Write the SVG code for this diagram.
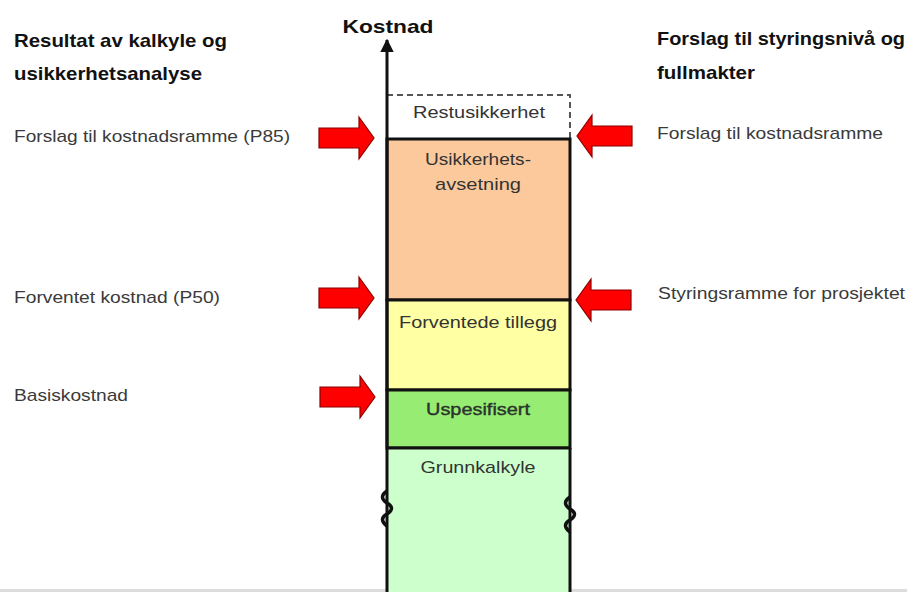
<svg xmlns="http://www.w3.org/2000/svg" width="907" height="592" viewBox="0 0 907 592">
<style>
.h{font-family:"Liberation Sans",Arial,sans-serif;font-weight:bold;font-size:19px;fill:#111;}
.t{font-family:"Liberation Sans",Arial,sans-serif;font-size:17px;fill:#3a3a3a;}
.c{font-family:"Liberation Sans",Arial,sans-serif;font-size:17px;fill:#333;text-anchor:middle;}
.box{stroke:#111;stroke-width:3;}
.arr{fill:#ff0000;stroke:#8a0000;stroke-width:1.2;stroke-linejoin:miter;}
.sq{fill:none;stroke:#111;stroke-width:3.5;}
</style>
<defs>
<path id="ptr" class="arr" d="M-55,-10 L-15,-10 L-15,-21 L0,0 L-15,21 L-15,10 L-55,10 Z"/>
<marker id="ah" viewBox="0 0 10 10" refX="9" refY="5" markerWidth="4.5" markerHeight="4.5" orient="auto" markerUnits="strokeWidth">
<path d="M0,0 L10,5 L0,10 Z" fill="#111"/>
</marker>
</defs>
<rect x="0" y="0" width="907" height="592" fill="#ffffff"/>
<rect x="0" y="589" width="907" height="3" fill="#dcdcdc"/>

<g id="heading-left">
<text class="h" x="14" y="47" textLength="213" lengthAdjust="spacingAndGlyphs">Resultat av kalkyle og</text>
<text class="h" x="14" y="80" textLength="188" lengthAdjust="spacingAndGlyphs">usikkerhetsanalyse</text>
</g>
<g id="heading-right">
<text class="h" x="657" y="45" textLength="248" lengthAdjust="spacingAndGlyphs">Forslag til styringsnivå og</text>
<text class="h" x="657" y="79" textLength="98" lengthAdjust="spacingAndGlyphs">fullmakter</text>
</g>

<g id="label-p85"><text class="t" x="14" y="142" textLength="276" lengthAdjust="spacingAndGlyphs">Forslag til kostnadsramme (P85)</text></g>
<g id="label-p50"><text class="t" x="14" y="303" textLength="206" lengthAdjust="spacingAndGlyphs">Forventet kostnad (P50)</text></g>
<g id="label-basis"><text class="t" x="14" y="401" textLength="114" lengthAdjust="spacingAndGlyphs">Basiskostnad</text></g>
<g id="label-kostnadsramme"><text class="t" x="657" y="139" textLength="226" lengthAdjust="spacingAndGlyphs">Forslag til kostnadsramme</text></g>
<g id="label-styringsramme"><text class="t" x="658" y="299" textLength="247" lengthAdjust="spacingAndGlyphs">Styringsramme for prosjektet</text></g>

<g id="restusikkerhet">
<path d="M387,95 H570 V138" fill="none" stroke="#555" stroke-width="2" stroke-dasharray="6,4"/>
<text class="c" x="479" y="118" textLength="132" lengthAdjust="spacingAndGlyphs">Restusikkerhet</text>
</g>
<g id="usikkerhetsavsetning">
<rect class="box" x="387" y="139" width="183" height="161" fill="#fbc99c"/>
<text class="c" x="478" y="165" textLength="106" lengthAdjust="spacingAndGlyphs">Usikkerhets-</text>
<text class="c" x="478" y="190" textLength="86" lengthAdjust="spacingAndGlyphs">avsetning</text>
</g>
<g id="forventede-tillegg">
<rect class="box" x="387" y="300" width="183" height="90" fill="#ffffa3"/>
<text class="c" x="478" y="328" textLength="158" lengthAdjust="spacingAndGlyphs">Forventede tillegg</text>
</g>
<g id="uspesifisert">
<rect class="box" x="387" y="390" width="183" height="58" fill="#97ed74"/>
<text class="c" x="478" y="415" textLength="104" lengthAdjust="spacingAndGlyphs" fill="#1f2f1f" stroke="#1f2f1f" stroke-width="0.4">Uspesifisert</text>
</g>
<g id="grunnkalkyle">
<path d="M387,448 H570 V592 H387 Z" fill="#ccffcc"/>
<path d="M387,448 H570 M570,448 V592" fill="none" stroke="#111" stroke-width="3"/>
<text class="c" x="478" y="473" textLength="115" lengthAdjust="spacingAndGlyphs">Grunnkalkyle</text>
<path class="sq" d="M387,491 q-9,6 0,12 q9,5 0,11 q-9,5 0,12"/>
<path class="sq" d="M570,497 q-9,6 0,12 q9,5 0,11 q-9,5 0,12"/>
</g>

<g id="axis">
<line x1="387" y1="592" x2="387" y2="40" stroke="#111" stroke-width="3" marker-end="url(#ah)"/>
<text class="h" x="388" y="33" text-anchor="middle" font-size="20" textLength="91" lengthAdjust="spacingAndGlyphs">Kostnad</text>
</g>

<g id="connectors">
<use href="#ptr" transform="translate(374,138)"/>
<use href="#ptr" transform="translate(374,298)"/>
<use href="#ptr" transform="translate(375,397)"/>
<use href="#ptr" transform="translate(577,136) scale(-1,1)"/>
<use href="#ptr" transform="translate(576,300) scale(-1,1)"/>
</g>
</svg>
